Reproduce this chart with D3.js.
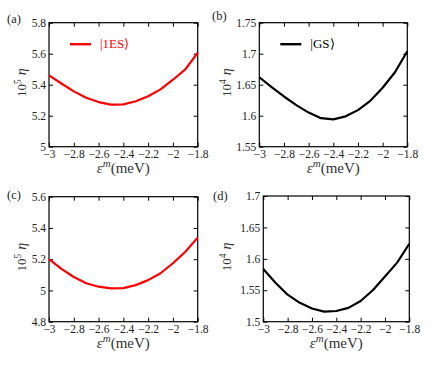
<!DOCTYPE html>
<html>
<head>
<meta charset="utf-8">
<script src="https://cdn.jsdelivr.net/npm/d3@7"></script>
<style>
  body { margin: 0; background: #fff; }
  svg { display: block; }
</style>
</head>
<body>
<script>
var width = 436,
    height = 377,
    serif = "'Liberation Serif', 'Times New Roman', serif";

// energy detuning (meV), shared x values
var eps = [-3, -2.9, -2.8, -2.7, -2.6, -2.5, -2.4, -2.3, -2.2, -2.1, -2.0, -1.9, -1.8];

// (a) 10^5 eta, |1ES>
var etaA = [5.460, 5.408, 5.357, 5.316, 5.288, 5.271, 5.273, 5.293, 5.325, 5.370, 5.432, 5.499, 5.606];
// (b) 10^4 eta, |GS>
var etaB = [1.662, 1.646, 1.631, 1.617, 1.605, 1.596, 1.594, 1.599, 1.609, 1.624, 1.645, 1.670, 1.704];
// (c) 10^5 eta, |1ES>
var etaC = [5.200, 5.138, 5.086, 5.046, 5.024, 5.013, 5.015, 5.034, 5.066, 5.110, 5.174, 5.248, 5.338];
// (d) 10^4 eta, |GS>
var etaD = [1.584, 1.562, 1.543, 1.530, 1.521, 1.516, 1.517, 1.522, 1.533, 1.550, 1.572, 1.594, 1.624];

var xTicks = [-3, -2.8, -2.6, -2.4, -2.2, -2, -1.8];
var yTicksA = [5, 5.2, 5.4, 5.6, 5.8];
var yTicksB = [1.55, 1.6, 1.65, 1.7, 1.75];
var yTicksC = [4.8, 5, 5.2, 5.4, 5.6];
var yTicksD = [1.5, 1.55, 1.6, 1.65, 1.7];

var panels = [
  {tag: "(a)", values: etaA, yTicks: yTicksA, exp: "5", color: "#ff0000", legend: "|1ES\u27E9",
   box: [49, 22.7, 197.7, 146.7], tagPos: [7, 23], yLab: 25.5},
  {tag: "(b)", values: etaB, yTicks: yTicksB, exp: "4", color: "#000000", legend: "|GS\u27E9",
   box: [259.3, 22.7, 407.3, 146.7], tagPos: [212, 20], yLab: 230.5},
  {tag: "(c)", values: etaC, yTicks: yTicksC, exp: "5", color: "#ff0000", legend: null,
   box: [49, 196.7, 197.7, 321.7], tagPos: [7, 199], yLab: 25.5},
  {tag: "(d)", values: etaD, yTicks: yTicksD, exp: "4", color: "#000000", legend: null,
   box: [263.3, 196, 409.3, 321.7], tagPos: [213, 200], yLab: 231}
];

var svg = d3.select("body").append("svg")
    .attr("width", width)
    .attr("height", height)
    .attr("font-family", serif);

var fmt = d3.format("~g");

panels.forEach(function(p) {
  var x0 = p.box[0], y0 = p.box[1], x1 = p.box[2], y1 = p.box[3];

  var x = d3.scaleLinear()
      .domain([-3, -1.8])
      .range([x0, x1]);

  var y = d3.scaleLinear()
      .domain([p.yTicks[0], p.yTicks[p.yTicks.length - 1]])
      .range([y1, y0]);

  var g = svg.append("g");

  // axes, ticks pointing inward on all four sides
  g.append("g")
      .attr("transform", "translate(0," + y1 + ")")
      .call(d3.axisBottom(x).tickValues(xTicks).tickSize(-4).tickPadding(3).tickFormat(fmt));
  g.append("g")
      .attr("transform", "translate(0," + y0 + ")")
      .call(d3.axisTop(x).tickValues(xTicks).tickSize(-4).tickFormat(""));
  g.append("g")
      .attr("transform", "translate(" + x0 + ",0)")
      .call(d3.axisLeft(y).tickValues(p.yTicks).tickSize(-4).tickPadding(3).tickFormat(fmt));
  g.append("g")
      .attr("transform", "translate(" + x1 + ",0)")
      .call(d3.axisRight(y).tickValues(p.yTicks).tickSize(-4).tickFormat(""));

  g.selectAll(".domain").remove();
  g.selectAll("g").attr("font-family", serif).attr("font-size", 11.5);
  g.selectAll(".tick line").attr("stroke", "#000").attr("stroke-width", 1);
  g.selectAll(".tick text").attr("fill", "#222");

  g.append("rect")
      .attr("x", x0)
      .attr("y", y0)
      .attr("width", x1 - x0)
      .attr("height", y1 - y0)
      .attr("fill", "none")
      .attr("stroke", "#000")
      .attr("stroke-width", 1.2);

  var line = d3.line()
      .x(function(d, i) { return x(eps[i]); })
      .y(function(d) { return y(d); });

  g.append("path")
      .datum(p.values)
      .attr("d", line)
      .attr("fill", "none")
      .attr("stroke", p.color)
      .attr("stroke-width", 2.2)
      .attr("stroke-linejoin", "round");

  // panel tag
  g.append("text")
      .attr("x", p.tagPos[0])
      .attr("y", p.tagPos[1])
      .attr("font-size", 12.5)
      .attr("fill", "#222")
      .text(p.tag);

  // x label
  var xl = g.append("text")
      .attr("x", (x0 + x1) / 2)
      .attr("y", y1 + 26)
      .attr("text-anchor", "middle")
      .attr("fill", "#333")
      .attr("font-size", 15);
  xl.append("tspan").attr("font-style", "italic").text("\u03B5");
  xl.append("tspan").attr("dy", -6).attr("font-size", 11).attr("font-style", "italic").text("m");
  xl.append("tspan").attr("dy", 6).text("(meV)");

  // y label
  var yl = g.append("text")
      .attr("transform", "translate(" + p.yLab + "," + ((y0 + y1) / 2 - 2) + ") rotate(-90)")
      .attr("text-anchor", "middle")
      .attr("fill", "#333")
      .attr("font-size", 13);
  yl.append("tspan").text("10");
  yl.append("tspan").attr("dy", -5).attr("font-size", 9.5).text(p.exp);
  yl.append("tspan").attr("dy", 5).attr("dx", 4).attr("font-style", "italic").attr("font-size", 14).text("\u03B7");

  // legend
  if (p.legend) {
    g.append("line")
        .attr("x1", x0 + 21)
        .attr("x2", x0 + 42)
        .attr("y1", y0 + 21.5)
        .attr("y2", y0 + 21.5)
        .attr("stroke", p.color)
        .attr("stroke-width", 2.4);
    g.append("text")
        .attr("x", x0 + 51)
        .attr("y", y0 + 25.5)
        .attr("fill", p.color)
        .attr("font-size", 13)
        .text(p.legend);
  }
});
</script>
</body>
</html>
